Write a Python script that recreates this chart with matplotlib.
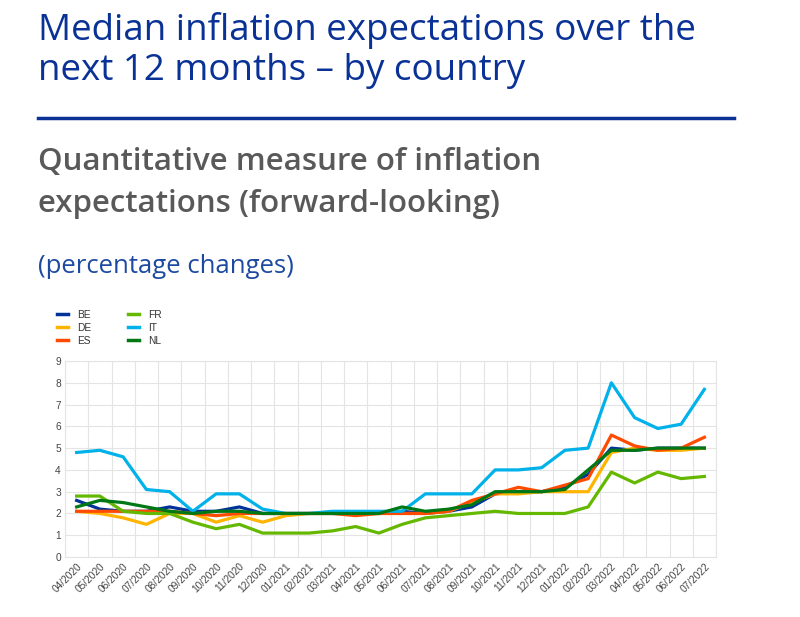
import matplotlib.pyplot as plt
import numpy as np

plt.rcParams['font.family'] = ['Open Sans', 'DejaVu Sans']

## 데이터 : 2020년 4월 ~ 2022년 7월
months = ["04/2020", "05/2020", "06/2020", "07/2020", "08/2020", "09/2020", "10/2020",
          "11/2020", "12/2020", "01/2021", "02/2021", "03/2021", "04/2021", "05/2021",
          "06/2021", "07/2021", "08/2021", "09/2021", "10/2021", "11/2021", "12/2021",
          "01/2022", "02/2022", "03/2022", "04/2022", "05/2022", "06/2022", "07/2022"]

be = [2.6, 2.2, 2.1, 2.1, 2.3, 2.1, 2.1, 2.3, 2.0, 2.0, 2.0, 2.0, 2.0, 2.0,
      2.1, 2.0, 2.1, 2.3, 2.9, 3.0, 3.0, 3.2, 3.8, 5.0, 4.9, 5.0, 5.0, 5.0]
de = [2.1, 2.0, 1.8, 1.5, 2.0, 2.0, 1.6, 1.9, 1.6, 1.9, 2.0, 2.0, 2.0, 2.0,
      2.0, 2.0, 2.1, 2.5, 2.9, 2.9, 3.0, 3.0, 3.0, 4.8, 5.0, 4.9, 4.9, 5.0]
es = [2.1, 2.1, 2.1, 2.1, 2.1, 2.0, 1.9, 2.0, 2.0, 2.0, 2.0, 2.0, 1.9, 2.0,
      2.0, 2.0, 2.1, 2.6, 2.9, 3.2, 3.0, 3.3, 3.6, 5.6, 5.1, 4.9, 5.0, 5.5]
fr = [2.8, 2.8, 2.1, 2.0, 2.0, 1.6, 1.3, 1.5, 1.1, 1.1, 1.1, 1.2, 1.4, 1.1,
      1.5, 1.8, 1.9, 2.0, 2.1, 2.0, 2.0, 2.0, 2.3, 3.9, 3.4, 3.9, 3.6, 3.7]
it = [4.8, 4.9, 4.6, 3.1, 3.0, 2.1, 2.9, 2.9, 2.2, 2.0, 2.0, 2.1, 2.1, 2.1,
      2.1, 2.9, 2.9, 2.9, 4.0, 4.0, 4.1, 4.9, 5.0, 8.0, 6.4, 5.9, 6.1, 7.7]
nl = [2.3, 2.6, 2.5, 2.3, 2.1, 2.0, 2.1, 2.1, 2.0, 2.0, 2.0, 2.0, 2.0, 2.0,
      2.3, 2.1, 2.2, 2.4, 3.0, 3.0, 3.0, 3.1, 4.0, 4.9, 4.9, 5.0, 5.0, 5.0]

series = [("BE", be, "#003299"), ("DE", de, "#ffb400"), ("ES", es, "#ff4b00"),
          ("FR", fr, "#65b800"), ("IT", it, "#00b1ea"), ("NL", nl, "#007816")]

fig = plt.figure(figsize=(8, 6.17), dpi=100)

# 제목 영역
fig.text(0.0475, 0.98, "Median inflation expectations over the\nnext 12 months – by country",
         color="#0a3296", fontsize=26.5, va="top", linespacing=1.15)
fig.add_artist(plt.Line2D([0.0475, 0.917], [0.809, 0.809], color="#0a3296", lw=2.5))
fig.text(0.0475, 0.762, "Quantitative measure of inflation\nexpectations (forward-looking)",
         color="#595959", fontsize=22.5, fontweight="semibold", va="top", linespacing=1.55)
fig.text(0.0475, 0.588, "(percentage changes)", color="#1d4aa0", fontsize=18.5, va="top")

# 차트 영역
ax = fig.add_axes([0.08125, 0.0972, 0.81375, 0.3177])
x = np.arange(len(months))
for name, vals, col in series:
    ax.plot(x, vals, color=col, lw=2.3, label=name, solid_joinstyle="round")

ax.set_xlim(-0.5, len(months) - 0.5)
ax.set_ylim(0, 9)
ax.set_yticks(range(0, 10))
ax.set_xticks(x)
ax.set_xticklabels(months, rotation=45, ha="right", rotation_mode="anchor")
ax.set_xticks(np.arange(-0.5, len(months)), minor=True)
ax.grid(True, which="minor", axis="x", color="#e4e4e4", lw=0.8)
ax.grid(True, which="major", axis="y", color="#e4e4e4", lw=0.8)
ax.tick_params(which="both", length=0, labelsize=7.3, colors="#444444", pad=3)
for lab in ax.get_xticklabels() + ax.get_yticklabels():
    lab.set_family("Liberation Sans")
for s in ax.spines.values():
    s.set_color("#e4e4e4")
    s.set_linewidth(0.8)

leg = fig.legend(loc="upper left", bbox_to_anchor=(0.06, 0.513), ncol=2, frameon=False,
                 prop={"family": "Liberation Sans", "size": 7.3}, handlelength=1.1,
                 columnspacing=3.6, labelspacing=0.3, handletextpad=0.9)
for h in leg.get_lines():
    h.set_linewidth(2.5)
for t in leg.get_texts():
    t.set_color("#333333")

fig.savefig("out.png", dpi=100)
